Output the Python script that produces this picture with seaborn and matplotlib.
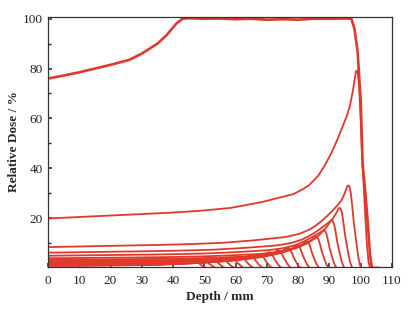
import numpy as np
import pandas as pd
import matplotlib
matplotlib.use("Agg")
import matplotlib.pyplot as plt
import seaborn as sns

# Spread-out Bragg peak
sobp_depth = [0, 5, 10, 15, 20, 26, 30, 35, 38, 41, 43, 45, 50, 55, 60, 65, 70, 75, 80, 85,
              90, 95, 97, 98, 99, 100, 100.6, 101.5, 102.2, 103, 103.6, 106]
sobp_dose = [76, 77.2, 78.5, 80, 81.5, 83.5, 86, 90, 93.5, 98, 100, 100.2, 100, 100.1, 99.8, 100,
             99.6, 99.8, 99.6, 100, 100, 100.1, 100, 96, 87, 67, 42, 30, 19, 5, 0, 0]

# Pristine Bragg peak shape read from the largest peak: offset from peak depth (mm), relative dose
peak_offset = [-100, -80, -60, -50, -40, -30, -25, -20, -17, -15, -12, -10, -8, -6, -5, -4, -3,
               -2, -1, 0, 0.5, 1, 1.5, 2, 2.5, 3, 3.5, 4, 4.5, 20]
peak_shape = [0.25, 0.265, 0.28, 0.29, 0.305, 0.335, 0.355, 0.375, 0.40, 0.42, 0.47, 0.52, 0.58,
              0.65, 0.69, 0.73, 0.77, 0.82, 0.90, 1.0, 1.0, 0.92, 0.75, 0.55, 0.40, 0.25, 0.12,
              0.03, 0.0, 0.0]

# Individual weighted Bragg peaks: peak depth (mm) and peak dose (%)
peak_depths = [46.5, 49.5, 52.5, 55.5, 58.5, 61.5, 64.5, 67.5, 70.5, 73.5, 76.5, 79.5, 82.5,
               85.5, 88, 90.5, 93, 95.8, 98.5]
peak_doses = [2.9, 3.1, 3.4, 3.7, 4.0, 4.5, 5.0, 5.5, 6.2, 7.0, 8.0, 9.0, 10.5,
              12.5, 15, 19, 24, 33, 79]

x_ticks = [0, 10, 20, 30, 40, 50, 60, 70, 80, 90, 100, 110]
y_ticks = [20, 40, 60, 80, 100]

rows = []
for i, (p, w) in enumerate(zip(peak_depths, peak_doses)):
    for o, s in zip(peak_offset, peak_shape):
        rows.append({"curve": i, "depth": p + o, "dose": w * s})
peaks_df = pd.DataFrame(rows)
sobp_df = pd.DataFrame({"depth": sobp_depth, "dose": sobp_dose})

sns.set_style("ticks")
plt.rcParams["font.family"] = ["Liberation Serif", "DejaVu Serif"]

fig = plt.figure(figsize=(4.17, 3.09), dpi=100)
ax = fig.add_axes([0.115, 0.137, 0.825, 0.808])

red = "#e0392b"
sns.lineplot(data=peaks_df, x="depth", y="dose", units="curve", estimator=None, sort=False,
             color=red, linewidth=1.3, ax=ax)
sns.lineplot(data=sobp_df, x="depth", y="dose", estimator=None, sort=False,
             color=red, linewidth=1.9, ax=ax)

ax.set_xlim(0, 109)
ax.set_ylim(0.5, 100.7)
ax.set_xticks(x_ticks)
ax.set_xticklabels([str(t) for t in x_ticks])
ax.set_yticks(y_ticks)
ax.set_yticklabels([str(t) for t in y_ticks])
ax.set_yticks([10, 30, 50, 70, 90], minor=True)
ax.tick_params(axis="both", which="major", direction="in", length=3, width=1.2,
               labelsize=9.5, colors="#333333", labelcolor="#222222")
ax.tick_params(axis="both", which="minor", direction="in", length=2, width=1.0)
ax.tick_params(axis="x", pad=6)
for s in ax.spines.values():
    s.set_linewidth(0.9)
    s.set_color("#333333")

ax.set_xlabel("Depth / mm", fontsize=9.5, fontweight="bold", labelpad=3)
ax.set_ylabel("Relative Dose / %", fontsize=9.5, fontweight="bold", labelpad=2)

fig.savefig("out.png", dpi=100)
